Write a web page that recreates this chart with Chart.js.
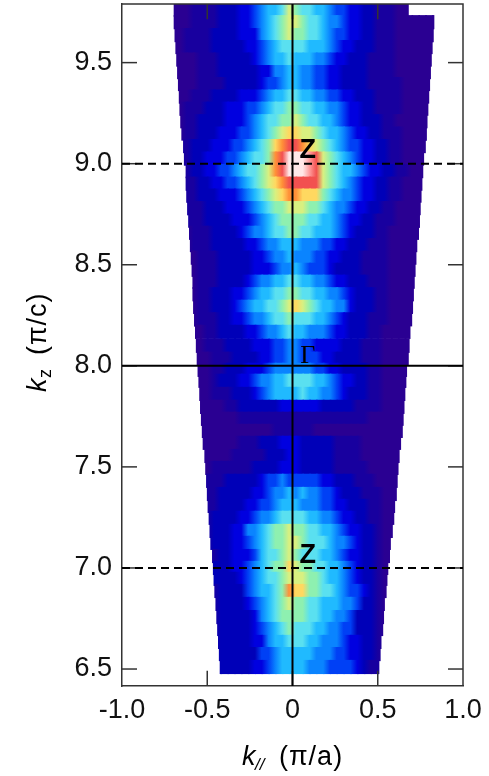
<!DOCTYPE html>
<html>
<head>
<meta charset="utf-8">
<title>k-space map</title>
<script src="https://cdn.jsdelivr.net/npm/chart.js@4"></script>
<style>
  html, body { margin: 0; padding: 0; background: #fff; }
  canvas { display: block; }
</style>
</head>
<body>
<canvas id="mapChart" width="489" height="776"></canvas>
<script>
// axis ticks
const xTickValues = [-1, -0.5, 0, 0.5, 1];
const xTickLabels = ['-1.0', '-0.5', '0', '0.5', '1.0'];
const yTickValues = [6.5, 7, 7.5, 8, 8.5, 9, 9.5];
const yTickLabels = ['6.5', '7.0', '7.5', '8.0', '8.5', '9.0', '9.5'];

// k// of every intensity column
const columnK = [-0.70, -0.66, -0.62, -0.58, -0.54, -0.50, -0.46, -0.42, -0.38, -0.34, -0.30, -0.26, -0.22,
  -0.18, -0.14, -0.10, -0.06, -0.02, 0.02, 0.06, 0.10, 0.14, 0.18, 0.22, 0.26, 0.30, 0.34, 0.38, 0.42, 0.46, 0.50,
  0.54, 0.58, 0.62, 0.66, 0.70, 0.74, 0.78, 0.82, 0.86];

// kz of each scan, top to bottom
const rowKz = [9.762, 9.700, 9.636, 9.577, 9.515, 9.453, 9.394, 9.332, 9.272, 9.210,
  9.149, 9.087, 9.025, 8.963, 8.901, 8.842, 8.780, 8.718, 8.658, 8.597,
  8.535, 8.475, 8.416, 8.354, 8.292, 8.230, 8.168, 8.099, 8.035, 7.980,
  7.926, 7.861, 7.797, 7.738, 7.678, 7.619, 7.554, 7.495, 7.431, 7.366,
  7.307, 7.248, 7.183, 7.124, 7.059, 7.000, 6.946, 6.886, 6.822, 6.757,
  6.698, 6.634, 6.574, 6.510];

// measured k// range of each scan
const rowLeft = [-0.695, -0.695, -0.69, -0.685, -0.68, -0.675, -0.67, -0.665, -0.66, -0.655,
  -0.65, -0.64, -0.635, -0.625, -0.625, -0.62, -0.615, -0.61, -0.605, -0.60,
  -0.595, -0.59, -0.585, -0.585, -0.58, -0.575, -0.57, -0.565, -0.56, -0.555,
  -0.55, -0.545, -0.54, -0.535, -0.53, -0.525, -0.515, -0.51, -0.505, -0.50,
  -0.495, -0.49, -0.485, -0.48, -0.47, -0.465, -0.46, -0.455, -0.45, -0.445,
  -0.44, -0.435, -0.43, -0.425];
const rowRight = [0.68, 0.83, 0.825, 0.82, 0.815, 0.81, 0.805, 0.80, 0.795, 0.79,
  0.785, 0.78, 0.77, 0.765, 0.76, 0.755, 0.75, 0.745, 0.74, 0.73,
  0.725, 0.72, 0.715, 0.71, 0.705, 0.70, 0.69, 0.685, 0.68, 0.67,
  0.665, 0.66, 0.655, 0.65, 0.645, 0.635, 0.625, 0.62, 0.615, 0.61,
  0.60, 0.595, 0.585, 0.575, 0.57, 0.56, 0.555, 0.55, 0.54, 0.535,
  0.53, 0.52, 0.515, 0.507];

// intensity per scan (0 = weakest, 14 = strongest), trailing zeros left out
const intensity = [
  [0,0,0,1,1,1,1,2,2,2,3,3,4,5,6,6,7,9,8,7,7,6,6,5,4,4,3,3,2,2,1,1,1],
  [0,0,0,1,1,1,1,2,2,2,3,3,4,5,6,7,8,9,9,8,7,7,6,5,5,4,3,3,2,2,1,1,1],
  [0,0,1,1,1,1,2,2,2,2,3,3,3,5,6,7,8,9,8,8,7,7,6,5,4,4,3,3,2,2,1,1,1],
  [0,0,1,1,1,1,2,2,2,2,2,3,3,4,5,6,7,7,7,7,6,6,6,5,4,3,3,2,2,2,1,1,1],
  [0,0,0,0,1,1,1,2,2,2,2,2,3,4,5,6,6,7,6,6,6,5,5,4,3,3,2,2,2,1,1,1,1],
  [0,0,0,0,1,1,1,2,2,2,2,2,2,3,3,5,5,6,6,5,5,4,4,3,3,2,2,2,2,1,1,1,1],
  [0,0,0,0,1,1,1,1,2,2,2,2,2,3,4,4,5,6,6,5,5,4,4,3,3,2,2,2,2,1,1,1,1,1],
  [0,0,0,1,1,1,2,2,2,2,3,3,3,4,5,6,6,7,7,6,6,5,5,4,4,3,3,2,2,2,1,1,1,1],
  [0,0,1,1,1,2,2,2,3,3,3,4,4,5,6,7,7,8,8,7,7,6,6,5,5,4,3,3,2,2,1,1,1,1],
  [0,0,1,1,2,2,2,2,3,3,3,4,5,6,7,7,8,8,9,8,7,7,6,6,5,4,3,3,2,2,2,1,1],
  [0,0,1,1,2,2,2,3,3,3,4,4,5,6,7,8,9,10,10,9,9,8,7,6,6,5,4,3,3,2,2,1,1,1],
  [0,1,1,2,2,2,3,3,3,4,4,5,6,7,8,10,11,12,12,11,10,9,8,7,6,5,4,4,3,3,2,2,1,1],
  [0,1,1,2,2,3,3,3,4,4,5,6,7,7,8,11,12,14,14,14,13,12,9,8,7,6,5,4,3,3,2,2,1,1],
  [0,1,1,2,2,3,3,4,4,5,6,7,7,8,9,11,12,14,14,14,13,12,9,8,7,6,6,5,4,3,3,2,2,1,1],
  [0,1,1,1,2,2,3,3,4,4,5,6,7,8,9,10,11,12,12,12,12,12,9,8,7,6,5,4,3,3,2,2,1,1],
  [0,0,1,1,2,2,2,3,3,3,4,5,6,7,8,9,10,11,11,10,10,10,8,7,6,5,5,4,3,3,2,2,1,1],
  [0,0,1,1,1,2,2,2,3,3,3,4,5,6,7,8,8,9,9,9,8,8,7,6,5,5,4,3,3,2,2,1,1],
  [0,0,1,1,1,2,2,2,2,3,3,3,4,5,6,7,8,8,8,8,7,7,6,6,5,4,3,3,2,2,1,1,1],
  [0,0,0,1,1,1,2,2,2,2,3,4,5,5,6,7,7,8,8,7,7,6,6,6,5,4,3,2,2,2,1,1],
  [0,0,0,1,1,1,2,2,2,2,2,3,3,4,5,5,6,6,6,5,5,5,4,4,3,3,2,2,2,1,1,1],
  [0,0,0,0,1,1,1,2,2,2,2,2,3,3,4,5,5,6,5,5,5,4,4,3,3,2,2,2,1,1,1,1],
  [0,0,0,0,1,1,1,2,2,2,2,2,3,3,3,4,5,5,6,5,4,4,4,3,2,2,2,2,1,1,1,1],
  [0,0,0,0,1,1,1,2,2,2,2,3,4,5,5,6,6,7,7,6,6,5,5,4,3,3,2,2,2,1,1,1],
  [0,0,0,0,1,1,2,2,2,3,3,4,5,6,6,7,7,8,8,7,7,6,6,5,5,4,3,2,2,2,1,1],
  [0,0,0,0,1,1,2,2,2,3,4,5,6,6,7,7,8,9,10,9,8,7,6,6,5,5,3,2,2,2,1,1],
  [0,0,0,0,1,1,1,2,2,3,3,4,5,5,6,7,7,8,7,7,7,6,6,5,4,3,2,2,2,1,1,1],
  [0,0,0,0,0,1,1,2,2,2,2,3,3,4,5,5,6,7,6,6,5,5,5,4,3,3,2,2,2,1,1],
  [0,0,0,0,0,1,1,1,2,2,2,2,3,3,3,4,4,5,5,4,4,3,3,3,3,2,2,2,1,1,1],
  [0,0,0,0,0,0,1,1,1,2,2,2,2,3,3,4,4,5,5,4,4,4,3,3,2,2,2,2,1,1,1],
  [0,0,0,0,0,0,1,1,2,2,2,3,3,3,4,5,5,5,5,5,5,4,4,3,3,2,2,2,2,1,1],
  [0,0,0,0,0,0,1,2,2,2,3,3,4,5,5,6,6,7,7,7,7,6,6,5,4,3,3,2,2,1,1],
  [0,0,0,0,0,0,1,1,1,2,2,2,3,4,5,6,6,6,6,7,6,6,5,5,4,3,2,2,2,1,1],
  [0,0,0,0,0,0,0,0,1,1,2,2,2,2,2,2,3,3,3,3,3,3,2,2,2,2,2,1,1,1,1],
  [0,0,0,0,0,0,0,0,0,0,1,1,1,1,1,1,1,1,1,1,1,1,1,1,1,1,1,1,1],
  [0,0,0,0,0,0,0,0,0,0,0,0,0,0,0,1,1,1,1,1,1,0,0,0,0,0,0,0,0],
  [0,0,0,0,0,0,0,0,0,0,1,1,1,2,2,2,3,3,3,2,2,2,2,2,1,1,1,1],
  [0,0,0,0,0,0,0,0,0,1,1,1,1,1,2,2,2,3,3,2,2,2,2,2,1,1,1,1],
  [0,0,0,0,0,0,1,1,1,1,1,1,2,2,2,2,3,3,3,2,2,2,2,2,1,1,1,1,1],
  [0,0,0,0,0,1,1,1,2,2,2,2,2,3,4,4,5,4,4,4,4,4,3,3,2,2,2,1,1,1],
  [0,0,0,0,0,1,1,2,2,2,2,2,3,3,4,5,5,6,5,6,5,5,4,4,3,2,2,2,1,1,1],
  [0,0,0,0,0,1,1,2,2,2,2,3,3,4,4,5,6,6,6,5,5,5,4,4,3,3,2,2,2,1,1],
  [0,0,0,0,0,1,2,2,2,2,3,3,4,5,5,6,7,7,7,7,6,6,5,5,4,3,3,2,2,1,1],
  [0,0,0,0,0,1,2,2,2,3,3,5,5,6,7,8,8,9,8,8,7,7,6,6,5,4,3,3,2,2,1],
  [0,0,0,0,0,1,2,2,2,3,3,4,5,6,7,8,8,9,9,8,7,7,7,6,5,5,4,3,2,2,1],
  [0,0,0,0,0,1,1,2,2,3,3,3,4,6,7,7,8,9,8,7,7,7,6,6,5,4,3,3,2,2,1],
  [0,0,0,0,0,1,2,2,2,3,3,4,5,6,7,8,8,10,9,8,8,7,7,6,6,5,4,3,2,2,1],
  [0,0,0,0,0,1,2,2,2,2,3,4,5,6,7,7,8,9,9,9,8,8,7,6,6,5,4,3,2,2,1],
  [0,0,0,0,0,0,1,2,2,2,2,4,5,6,6,7,8,11,10,10,8,8,7,7,6,5,4,4,3,2,1],
  [0,0,0,0,0,0,1,2,2,2,2,3,4,5,6,7,8,9,8,8,7,7,6,6,6,5,5,4,2,2,1],
  [0,0,0,0,0,0,1,2,2,2,2,2,3,5,6,7,8,8,8,8,7,7,6,6,5,5,4,2,2,2,1],
  [0,0,0,0,0,0,1,2,2,2,2,2,3,4,5,6,7,8,7,7,7,6,6,5,5,4,4,2,2,2,1],
  [0,0,0,0,0,0,1,2,2,2,2,2,3,3,5,6,6,7,7,7,6,6,5,5,5,4,3,3,2,2,1],
  [0,0,0,0,0,0,1,2,2,2,2,2,2,4,4,5,6,6,6,6,6,5,5,5,4,4,3,3,2,2,1],
  [0,0,0,0,0,0,1,2,2,2,2,2,3,3,4,5,6,6,6,6,5,5,5,4,4,4,4,3,2,1,1]
];

const palette = ['#2a0092', '#18009f', '#0000b8', '#0000e0', '#0040f5', '#0a84ff', '#20baff', '#5ae0f0',
  '#8ef0b0', '#d8f080', '#ffd860', '#ff9038', '#f25050', '#ff9c9c', '#ffe8e8'];

// reference lines
const solidLines = [
  [{ x: 0, y: 6.416 }, { x: 0, y: 9.79 }],
  [{ x: -1, y: 8 }, { x: 1, y: 8 }]
];
const dashedKz = [9, 7];
const xAxisRange = [-1, 1];
const yAxisRange = [6.416, 9.79];

// labels inside the plot
const pointLabels = [
  { text: 'Z', x: 0.09, y: 9.065, font: 'bold 27px "Liberation Sans"' },
  { text: 'Z', x: 0.09, y: 7.06, font: 'bold 27px "Liberation Sans"' },
  { text: 'Γ', x: 0.09, y: 8.05, font: '26px "Liberation Serif"' }
];

const frameColor = '#333333';
const tickFont = { family: '"Liberation Sans"', size: 27 };

// build the cells, each a floating horizontal bar shaded from its column to the next
const cells = [];
const cellShades = [];
rowKz.forEach(function (kz, r) {
    columnK.forEach(function (k, j) {
        if (j === columnK.length - 1) return;
        const from = Math.max(k, rowLeft[r]);
        // a little overlap so no seams show between neighbours
        const to = Math.min(columnK[j + 1] + 0.006, rowRight[r]);
        if (to <= from) return;
        cells.push({ x: [from, to], y: kz });
        cellShades.push({
            x0: k,
            x1: columnK[j + 1],
            c0: palette[intensity[r][j] || 0],
            c1: palette[intensity[r][j + 1] || 0]
        });
    });
});

function cellFill(context) {
    const shade = cellShades[context.dataIndex];
    if (!shade) return palette[0];
    const xs = context.chart.scales.x;
    const p0 = xs.getPixelForValue(shade.x0);
    const p1 = xs.getPixelForValue(shade.x1);
    // scales have no size yet on the first pass
    if (!Number.isFinite(p0) || !Number.isFinite(p1)) return shade.c0;
    const g = context.chart.ctx.createLinearGradient(p0, 0, p1, 0);
    g.addColorStop(0, shade.c0);
    g.addColorStop(1, shade.c1);
    return g;
}

function lineSet(points, width, color, dash) {
    return {
        type: 'line',
        data: points,
        borderColor: color,
        borderWidth: width,
        borderDash: dash || [],
        pointRadius: 0,
        tension: 0,
        fill: false,
        clip: false,
        order: 1
    };
}

const datasets = [{
    type: 'bar',
    indexAxis: 'y',
    data: cells,
    backgroundColor: cellFill,
    borderWidth: 0,
    barThickness: 13.5,
    grouped: false,
    order: 2
}];

solidLines.forEach(function (pts) { datasets.push(lineSet(pts, 2, '#000000')); });
dashedKz.forEach(function (kz) {
    datasets.push(lineSet([{ x: -1, y: kz }, { x: 1, y: kz }], 2, '#000000', [8, 5]));
});

// frame top and right, the axes draw the other two
datasets.push(lineSet([
    { x: -1, y: yAxisRange[1] }, { x: 1, y: yAxisRange[1] }, { x: 1, y: yAxisRange[0] }
], 1.5, frameColor));

// inward ticks on all four sides
xTickValues.slice(1, -1).forEach(function (v) {
    datasets.push(lineSet([{ x: v, y: yAxisRange[0] }, { x: v, y: yAxisRange[0] + 0.075 }], 1.5, frameColor));
    datasets.push(lineSet([{ x: v, y: yAxisRange[1] }, { x: v, y: yAxisRange[1] - 0.075 }], 1.5, frameColor));
});
yTickValues.forEach(function (v) {
    datasets.push(lineSet([{ x: -1, y: v }, { x: -0.912, y: v }], 1.5, frameColor));
    datasets.push(lineSet([{ x: 1, y: v }, { x: 0.912, y: v }], 1.5, frameColor));
});

const textPlugin = {
    id: 'textPlugin',
    afterDraw: function (chart) {
        const ctx = chart.ctx;
        const xs = chart.scales.x;
        const ys = chart.scales.y;
        ctx.save();
        ctx.fillStyle = '#000000';
        ctx.textBaseline = 'middle';
        ctx.textAlign = 'center';
        pointLabels.forEach(function (l) {
            ctx.font = l.font;
            ctx.fillText(l.text, xs.getPixelForValue(l.x), ys.getPixelForValue(l.y));
        });

        // x title, k with a slashed subscript
        ctx.textAlign = 'left';
        ctx.textBaseline = 'alphabetic';
        ctx.font = 'italic 27px "Liberation Sans"';
        ctx.fillText('k', 242, 765);
        ctx.font = 'italic 17px "Liberation Sans"';
        ctx.fillText('//', 255, 770);
        ctx.letterSpacing = '1px';
        ctx.font = '27px "Liberation Sans"';
        ctx.fillText('(π/a)', 279, 765);
        ctx.letterSpacing = '0px';

        // y title, rotated
        ctx.translate(46, 392);
        ctx.rotate(-Math.PI / 2);
        ctx.font = 'italic 27px "Liberation Sans"';
        ctx.fillText('k', 0, 0);
        ctx.font = '18px "Liberation Sans"';
        ctx.fillText('z', 14, 5);
        ctx.letterSpacing = '1px';
        ctx.font = '27px "Liberation Sans"';
        ctx.fillText('(π/c)', 37, 0);
        ctx.restore();
    }
};

new Chart(document.getElementById('mapChart'), {
    type: 'bar',
    data: { datasets: datasets },
    plugins: [textPlugin],
    options: {
        responsive: false,
        animation: false,
        layout: { padding: { top: 4, right: 26, left: 0, bottom: 0 } },
        plugins: { legend: { display: false }, tooltip: { enabled: false } },
        scales: {
            x: {
                type: 'linear',
                offset: false,
                min: xAxisRange[0],
                max: xAxisRange[1],
                grid: { display: false, drawTicks: false },
                border: { color: frameColor, width: 1.5 },
                afterBuildTicks: function (scale) {
                    scale.ticks = xTickValues.map(function (v) { return { value: v }; });
                },
                afterFit: function (scale) {
                    scale.height = 90;
                    scale.paddingLeft = 0;
                    scale.paddingRight = 0;
                },
                ticks: {
                    color: '#111111',
                    font: tickFont,
                    padding: 8,
                    maxRotation: 0,
                    autoSkip: false,
                    callback: function (v) { return xTickLabels[xTickValues.indexOf(v)]; }
                }
            },
            y: {
                type: 'linear',
                offset: false,
                min: yAxisRange[0],
                max: yAxisRange[1],
                grid: { display: false, drawTicks: false },
                border: { color: frameColor, width: 1.5 },
                afterBuildTicks: function (scale) {
                    scale.ticks = yTickValues.map(function (v) { return { value: v }; });
                },
                afterFit: function (scale) {
                    scale.width = 122;
                    scale.paddingTop = 0;
                    scale.paddingBottom = 0;
                },
                ticks: {
                    color: '#111111',
                    font: tickFont,
                    padding: 10,
                    autoSkip: false,
                    callback: function (v) { return yTickLabels[yTickValues.indexOf(v)]; }
                }
            }
        }
    }
});
</script>
</body>
</html>
